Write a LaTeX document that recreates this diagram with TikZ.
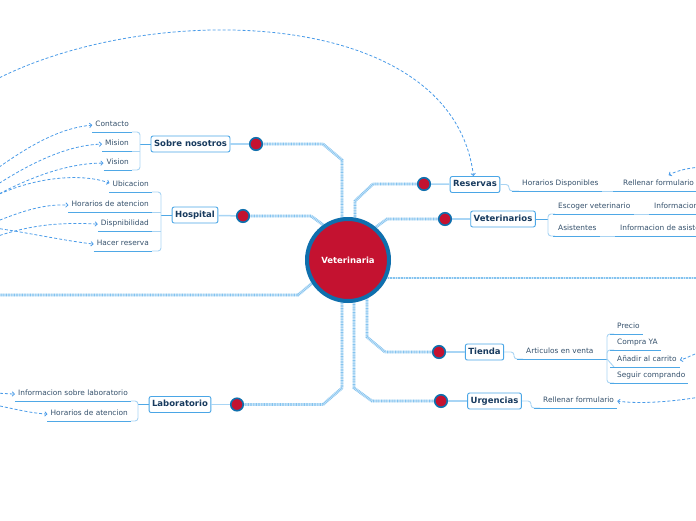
\documentclass[tikz,border=0pt]{standalone}
\usepackage{fontspec}
\setmainfont{DejaVu Sans}
\usetikzlibrary{arrows.meta,backgrounds,calc}
\definecolor{vred}{HTML}{C41230}
\definecolor{ring}{HTML}{0F6FAD}
\definecolor{tbord}{HTML}{4AA6E6}
\definecolor{ttext}{HTML}{173A5E}
\definecolor{stext}{HTML}{34506B}
\definecolor{ulc}{HTML}{4FA8E6}
\definecolor{brc}{HTML}{A9D4F3}
\definecolor{mainl}{HTML}{D3EAFA}
\definecolor{maind}{HTML}{84C3EF}
\definecolor{dashc}{HTML}{4A9BE8}
\definecolor{tlc}{HTML}{A8D5F5}
\tikzset{
  topic/.style={draw=tbord, line width=0.9pt, fill=white, rounded corners=2pt,
    font=\fontsize{8.5}{10}\selectfont\bfseries, text=ttext, inner xsep=3pt,
    inner ysep=0pt, text height=6.3pt, text depth=1.7pt, minimum height=16pt},
  topicdot/.style={circle, fill=vred, draw=ring, line width=1.6pt, minimum size=12.5pt, inner sep=0pt},
  sub/.style={font=\fontsize{7.4}{8.5}\selectfont, text=stext, inner xsep=3pt,
    inner ysep=3pt, text height=5.4pt, text depth=2pt},
  mainline/.style={line width=2.8pt, draw=mainl,
    postaction={draw=maind, line width=2.8pt, dash pattern=on 0.7pt off 0.9pt}},
  tline/.style={draw=tlc, line width=1.5pt},
  ul/.style={draw=ulc, line width=0.9pt},
  brk/.style={draw=brc, line width=0.9pt, rounded corners=3pt},
  link/.style={draw=dashc, line width=0.8pt, dash pattern=on 3pt off 2pt,
    -{Straight Barb[length=2.2pt,width=4.5pt]}},
}
\begin{document}
\begin{tikzpicture}[x=1pt,y=-1pt]
\useasboundingbox (0,0) rectangle (696,520);
\clip (0,0) rectangle (696,520);
% centre
\node[circle, fill=vred, draw=ring, line width=4pt, minimum size=82pt, inner sep=0pt,
  text=white, font=\fontsize{8.5}{10}\selectfont\bfseries] (vet) at (348,260) {Veterinaria};
% topics
\node[topic] (sobre) at (190.5,144) {Sobre nosotros};
\node[topic] (hosp) at (195,215) {Hospital};
\node[topic] (lab) at (180,404.5) {Laboratorio};
\node[topic] (res) at (475,184.5) {Reservas};
\node[topic] (vets) at (503,219) {Veterinarios};
\node[topic] (tie) at (484.5,352) {Tienda};
\node[topic] (urg) at (494.5,401) {Urgencias};
% dots
\node[topicdot] (sdot) at (256,144) {};
\node[topicdot] (hdot) at (243,216) {};
\node[topicdot] (ldot) at (237,404.5) {};
\node[topicdot] (rdot) at (424,184) {};
\node[topicdot] (vdot) at (445,219) {};
\node[topicdot] (tdot) at (439,352) {};
\node[topicdot] (udot) at (441,401) {};
% free ends
\coordinate (LL) at (-5,295);
\coordinate (RR) at (700,278);
\begin{pgfonlayer}{background}
\draw[mainline] (sdot.center) -- (323,144) -- (342,160) -- (342,160 |- vet.center);
\draw[mainline] (hdot.center) -- (311,216) -- ([shift={(-15,-28)}]vet.center);
\draw[mainline] (LL) -- (298,295) -- ([shift={(-26,15)}]vet.center);
\draw[mainline] (ldot.center) -- (323,404.5) -- (342,388) -- (342,388 |- vet.center);
\draw[mainline] (rdot.center) -- (373,184) -- (355,201) -- (355,201 |- vet.center);
\draw[mainline] (vdot.center) -- (387,219) -- ([shift={(17,-25)}]vet.center);
\draw[mainline] ([shift={(0,18)}]vet.center) -- (RR);
\draw[mainline] (tdot.center) -- (385,352) -- (367,337) -- (367,337 |- vet.center);
\draw[mainline] (udot.center) -- (372,401) -- (354,388) -- (354,388 |- vet.center);
\end{pgfonlayer}
\foreach \d/\t in {sdot/sobre,hdot/hosp,ldot/lab,rdot/res,vdot/vets,tdot/tie,udot/urg}
  \draw[tline] (\d) -- (\t);
% ---- Sobre nosotros
\node[sub, anchor=south east] (ct) at (132,132) {Contacto};
\node[sub, anchor=south east] (mi) at (132,151) {Mision};
\node[sub, anchor=south east] (vi) at (132,170) {Vision};
\coordinate (sb) at (140,144);
\draw[ul] (sobre.west) -- (sb);
\draw[brk] (ct.south east) -| (sb);
\draw[brk] (vi.south east) -| (sb);
\draw[brk] (mi.south east) -- (mi.south east -| sb);
\foreach \n in {ct,mi,vi} \draw[ul] (\n.south west) -- (\n.south east);
% ---- Hospital
\node[sub, anchor=south east] (ub) at (152,192) {Ubicacion};
\node[sub, anchor=south east] (hda) at (152,212) {Horarios de atencion};
\node[sub, anchor=south east] (dp) at (152,231) {Dispnibilidad};
\node[sub, anchor=south east] (hr) at (152,251) {Hacer reserva};
\coordinate (hb) at (161,215);
\draw[ul] (hosp.west) -- (hb);
\draw[brk] (ub.south east) -| (hb);
\draw[brk] (hr.south east) -| (hb);
\draw[brk] (hda.south east) -- (hda.south east -| hb);
\draw[brk] (dp.south east) -- (dp.south east -| hb);
\foreach \n in {ub,hda,dp,hr} \draw[ul] (\n.south west) -- (\n.south east);
% ---- Laboratorio
\node[sub, anchor=south east] (il) at (131,401) {Informacion sobre laboratorio};
\node[sub, anchor=south east] (hl) at (131,421) {Horarios de atencion};
\coordinate (lb) at (138,404.5);
\draw[ul] (lab.west) -- (lb);
\draw[brk] (il.south east) -| (lb);
\draw[brk] (hl.south east) -| (lb);
\foreach \n in {il,hl} \draw[ul] (\n.south west) -- (\n.south east);
% ---- Reservas
\node[sub, anchor=south west] (hd) at (519,191) {Horarios Disponibles};
\node[sub, anchor=south west] (rf) at (620,191) {Rellenar formulario};
\draw[brk] (res.east) -| (509,191) -- (hd.south west);
\draw[brk] (hd.south east) -- (rf.south west);
\foreach \n in {hd,rf} \draw[ul] ([xshift=-7pt]\n.south west) -- (\n.south east);
% ---- Veterinarios
\node[sub, anchor=south west] (ev) at (555,214) {Escoger veterinario};
\node[sub, anchor=south west] (iv) at (651,214) {Informacion};
\node[sub, anchor=south west] (as) at (555,236) {Asistentes};
\node[sub, anchor=south west] (ia) at (617,236) {Informacion de asistentes};
\coordinate (vb) at (548,219);
\draw[ul] (vets.east) -- (vb);
\draw[brk] (vb) |- (ev.south west);
\draw[brk] (vb) |- (as.south west);
\draw[brk] (ev.south east) -- (iv.south west);
\draw[brk] (as.south east) -- (ia.south west);
\foreach \n in {ev,iv,as,ia} \draw[ul] ([xshift=-2pt]\n.south west) -- (\n.south east);
% ---- Tienda
\node[sub, anchor=south west] (av) at (523,359) {Articulos en venta};
\node[sub, anchor=south west] (pr) at (614,334) {Precio};
\node[sub, anchor=south west] (cy) at (614,350) {Compra YA};
\node[sub, anchor=south west] (an) at (614,367) {Añadir al carrito};
\node[sub, anchor=south west] (sc) at (614,383) {Seguir comprando};
\coordinate (tb) at (607,359);
\draw[brk] (tie.east) -| (514,359) -- (av.south west);
\draw[ul] ([xshift=-6pt]av.south west) -- (tb);
\draw[brk] (tb) |- (pr.south west);
\draw[brk] (tb) |- (sc.south west);
\draw[brk] (tb) -- (tb |- cy.south west) -- (cy.south west);
\draw[brk] (tb) -- (an.south west);
\foreach \n in {pr,cy,an,sc} \draw[ul] ([xshift=-4pt]\n.south west) -- (\n.south east);
% ---- Urgencias
\node[sub, anchor=south west] (uf) at (540,408) {Rellenar formulario};
\draw[brk] (urg.east) -| (531,408) -- (uf.south west);
\draw[ul] ([xshift=-6pt]uf.south west) -- (uf.south east);
% ---- dashed links
\coordinate (T0) at (-5,80);
\coordinate (L1) at (-5,170);
\coordinate (L2) at (-5,186);
\coordinate (L3) at (-5,196);
\coordinate (L4) at (-5,196);
\coordinate (L5) at (-5,222);
\coordinate (L6) at (-5,237);
\coordinate (L7) at (-5,228);
\coordinate (L8) at (-5,393);
\coordinate (L9) at (-5,405);
\coordinate (R1) at (700,167);
\coordinate (R2) at (700,353);
\coordinate (R3) at (700,397);
\draw[link] (T0) .. controls (150,0) and (452,5) .. ([xshift=-1.5pt]res.north);
\draw[link] (L1) .. controls (30,145) and (60,128) .. (ct.west);
\draw[link] (L2) .. controls (35,160) and (70,145) .. (mi.west);
\draw[link] (L3) .. controls (40,172) and (75,163) .. (vi.west);
\draw[link] (L4) .. controls (40,175) and (85,174) .. ([yshift=2pt]ub.west);
\draw[link] (L5) .. controls (25,210) and (45,204) .. (hda.west);
\draw[link] (L6) .. controls (30,225) and (60,222) .. (dp.west);
\draw[link] (L7) .. controls (30,233) and (60,240) .. (hr.west);
\draw[link] (L8) -- (il.west);
\draw[link] (L9) .. controls (15,409) and (30,413) .. (hl.west);
\draw[link] (R1) .. controls (690,168) and (678,170) .. ([xshift=10pt,yshift=2pt]rf.north);
\draw[link] (R2) .. controls (692,354) and (688,358) .. (an.east);
\draw[link] (R3) .. controls (670,402) and (640,404) .. (uf.east);
\end{tikzpicture}
\end{document}
